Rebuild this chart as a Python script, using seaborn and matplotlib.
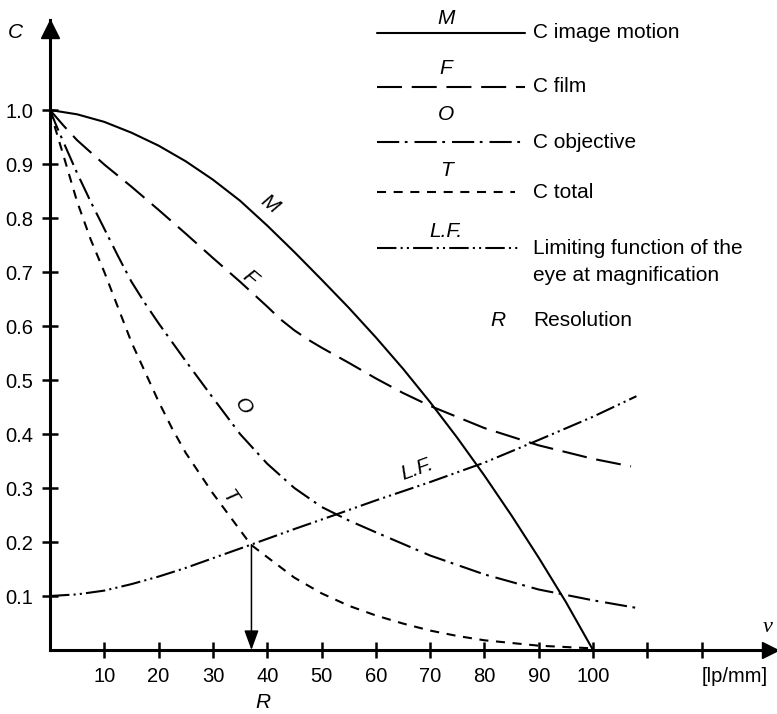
import numpy as np
import pandas as pd
import matplotlib
matplotlib.use("Agg")
import matplotlib.pyplot as plt
from matplotlib.lines import Line2D
import seaborn as sns

# ---------------- data ----------------
nu_M = [0, 5, 10, 15, 20, 25, 30, 35, 40, 45, 50, 55, 60, 65, 70, 75, 80, 85, 90, 95, 100]
C_M = [1.0, 0.992, 0.978, 0.958, 0.934, 0.905, 0.871, 0.832, 0.786, 0.737, 0.686,
       0.634, 0.579, 0.521, 0.459, 0.393, 0.323, 0.249, 0.171, 0.089, 0.0]

nu_F = [0, 2.5, 5, 10, 15, 20, 25, 30, 35, 40, 42.5, 45, 47.5, 50, 55, 60, 65, 70,
        80, 90, 100, 107]
C_F = [1.0, 0.971, 0.944, 0.899, 0.858, 0.815, 0.771, 0.726, 0.682, 0.636, 0.612,
       0.592, 0.575, 0.560, 0.532, 0.503, 0.476, 0.452, 0.411, 0.379, 0.354, 0.340]

nu_O = [0, 1, 2.5, 5, 7.5, 10, 12.5, 15, 17.5, 20, 25, 30, 35, 40, 45, 50, 55, 60,
        70, 80, 90, 100, 108]
C_O = [1.0, 0.975, 0.94, 0.883, 0.83, 0.78, 0.73, 0.682, 0.642, 0.605, 0.535, 0.467,
       0.40, 0.345, 0.30, 0.265, 0.24, 0.218, 0.175, 0.14, 0.112, 0.092, 0.078]

nu_T = [0, 1, 2.5, 5, 7.5, 10, 12.5, 15, 17.5, 20, 22.5, 25, 30, 35, 37, 40, 45, 50,
        55, 60, 65, 70, 75, 80, 90, 100]
C_T = [1.0, 0.965, 0.915, 0.83, 0.76, 0.70, 0.635, 0.57, 0.515, 0.46, 0.41, 0.365,
       0.29, 0.222, 0.195, 0.172, 0.134, 0.105, 0.082, 0.064, 0.049, 0.036, 0.026,
       0.018, 0.008, 0.003]

nu_LF = [0, 5, 10, 15, 20, 25, 30, 37, 45, 53, 60, 70, 80, 90, 100, 108]
C_LF = [0.100, 0.103, 0.110, 0.122, 0.136, 0.152, 0.170, 0.195, 0.224, 0.252, 0.277,
        0.311, 0.347, 0.389, 0.432, 0.47]

resolution_nu = 37.1
resolution_C = 0.195

x_ticks = [10, 20, 30, 40, 50, 60, 70, 80, 90, 100, 110, 120]
x_ticklabels = ["10", "20", "30", "40", "50", "60", "70", "80", "90", "100", "", ""]
y_ticks = [0.1, 0.2, 0.3, 0.4, 0.5, 0.6, 0.7, 0.8, 0.9, 1.0]
y_ticklabels = ["0.1", "0.2", "0.3", "0.4", "0.5", "0.6", "0.7", "0.8", "0.9", "1.0"]
x_unit = "[lp/mm]"

legend_keys = ["M", "F", "O", "T", "L.F."]
legend_texts = ["C image motion", "C film", "C objective", "C total",
                "Limiting function of the\neye at magnification"]

# ---------------- style ----------------
sns.set_theme(style="white")
plt.rcParams["font.family"] = ["Liberation Sans", "DejaVu Sans"]
plt.rcParams["lines.scale_dashes"] = False
plt.rcParams["text.color"] = "black"
plt.rcParams["xtick.color"] = "black"
plt.rcParams["ytick.color"] = "black"
plt.rcParams["xtick.labelcolor"] = "black"
plt.rcParams["ytick.labelcolor"] = "black"

W, H = 777, 714
fig = plt.figure(figsize=(W / 100, H / 100), dpi=100)
fig.patch.set_facecolor("white")

# axes: origin at pixel (50, 650); 1 lp/mm = 5.43 px, 1.0 C = 540 px
ax = fig.add_axes([50 / W, (H - 650) / H, (W - 50) / W, 630 / H])
ax.set_facecolor("white")
ax.set_xlim(0, (W - 50) / 5.43)
ax.set_ylim(0, 630 / 540)

styles = {
    "M": "-",
    "F": (0, (18, 7)),
    "O": (0, (16, 4, 2, 5)),
    "T": (0, (6.5, 5.5)),
    "L.F.": (0, (14, 3, 1.5, 3, 1.5, 3)),
}
LW = 1.5

series = [("M", nu_M, C_M), ("F", nu_F, C_F), ("O", nu_O, C_O),
          ("T", nu_T, C_T), ("L.F.", nu_LF, C_LF)]
for key, xs, ys in series:
    df = pd.DataFrame({"nu": xs, "C": ys})
    sns.lineplot(data=df, x="nu", y="C", ax=ax, color="black", lw=LW,
                 linestyle=styles[key], errorbar=None, legend=False)

# spines / axes with arrows
for s in ["top", "right"]:
    ax.spines[s].set_visible(False)
for s in ["left", "bottom"]:
    ax.spines[s].set_visible(True)
    ax.spines[s].set_color("black")
    ax.spines[s].set_linewidth(2.2)
ax.plot([0], [(650 - 29) / 540], marker="^", ms=13, color="black", clip_on=False)
ax.plot([(769.5 - 50) / 5.43], [0], marker=">", ms=11, color="black", clip_on=False)

ax.set_xticks(x_ticks)
ax.set_xticklabels(x_ticklabels)
ax.set_yticks(y_ticks)
ax.set_yticklabels(y_ticklabels)
ax.tick_params(axis="both", direction="inout", length=12, width=1.8,
               colors="black", labelcolor="black", labelsize=14.5, left=True, bottom=True)
ax.tick_params(axis="y", pad=6)
ax.tick_params(axis="x", pad=6)
ax.set_xlabel("")
ax.set_ylabel("")
ax.grid(False)

# resolution arrow
ax.annotate("", xy=(resolution_nu, 0), xytext=(resolution_nu, resolution_C),
            arrowprops=dict(arrowstyle="-|>,head_length=0.6,head_width=0.22",
                            color="black", lw=1.1, shrinkA=0, shrinkB=0,
                            mutation_scale=20))

# curve labels
lab_kw = dict(fontsize=15, style="italic", ha="center", va="center", color="black")
ax.text(40.5, 0.826, "M", rotation=-38, **lab_kw)
ax.text(36.8, 0.689, "F", rotation=-40, **lab_kw)
ax.text(35.5, 0.450, "O", rotation=-55, **lab_kw)
ax.text(33.1, 0.283, "T", rotation=-55, **lab_kw)
ax.text(67.6, 0.335, "L.F.", rotation=20, **lab_kw)


def fx(px):
    return px / W


def fy(py):
    return 1 - py / H


# axis names
fig.text(fx(15), fy(33), "C", fontsize=15, style="italic", ha="center", va="center")
fig.text(fx(768), fy(627), "ν", fontsize=16, style="italic", ha="center", va="center",
         family=["Liberation Serif", "DejaVu Serif"])
fig.text(fx(735), fy(676), x_unit, fontsize=14.5, ha="center", va="center")
fig.text(fx(263), fy(702), "R", fontsize=15, style="italic", ha="center", va="center")

# legend drawn by hand
leg_line_y = [33, 87, 142, 192, 248]
leg_key_y = [18, 68, 115, 170, 232]
leg_end = [525, 525, 525, 515, 520]
for key, text, ly, ky, xe in zip(legend_keys, legend_texts, leg_line_y, leg_key_y, leg_end):
    fig.add_artist(Line2D([fx(377), fx(xe)], [fy(ly), fy(ly)], color="black", lw=LW,
                          linestyle=styles[key], transform=fig.transFigure))
    fig.text(fx(446), fy(ky), key, fontsize=15, style="italic", ha="center", va="center")
    if "\n" in text:
        l1, l2 = text.split("\n")
        fig.text(fx(533), fy(ly), l1, fontsize=15, ha="left", va="center")
        fig.text(fx(533), fy(ly + 28), l2, fontsize=15, ha="left", va="center")
    else:
        fig.text(fx(533), fy(ly), text, fontsize=15, ha="left", va="center")
fig.text(fx(498), fy(320), "R", fontsize=15, style="italic", ha="center", va="center")
fig.text(fx(533), fy(320), "Resolution", fontsize=15, ha="left", va="center")

fig.savefig("out.png", dpi=100, facecolor="white")
